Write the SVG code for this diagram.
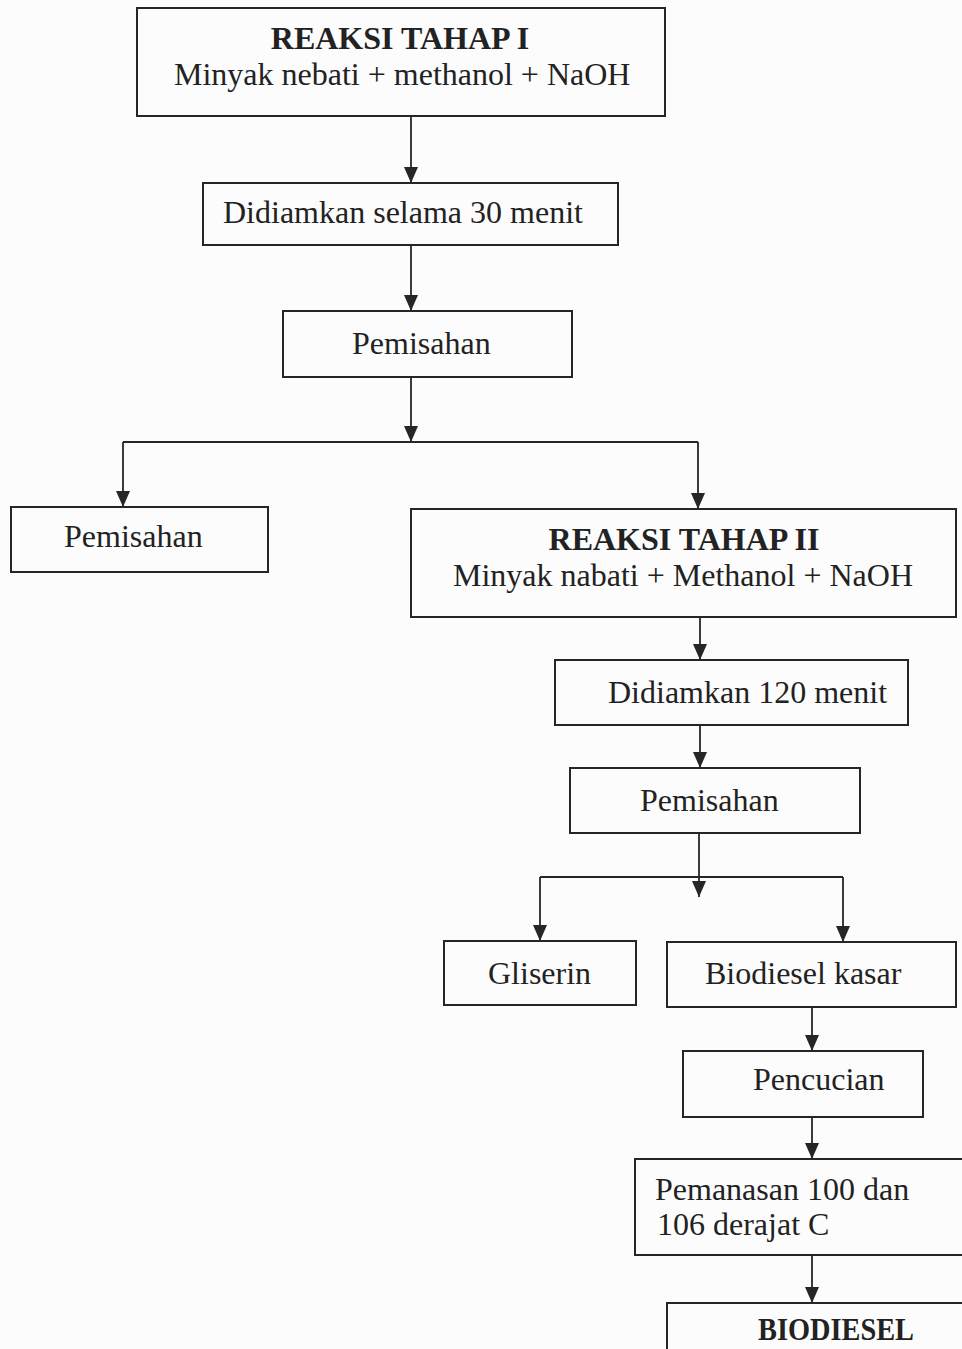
<svg xmlns="http://www.w3.org/2000/svg" width="962" height="1349" viewBox="0 0 962 1349">
<style>
.box{fill:none;stroke:#262626;stroke-width:2}
.lbl{font-family:"Liberation Serif","Times New Roman",serif;font-size:32px;fill:#222}
.bold{font-weight:bold}
.mid{text-anchor:middle}
.con{fill:none;stroke:#262626;stroke-width:1.8}
</style>
<defs>
<marker id="ah" markerUnits="userSpaceOnUse" markerWidth="16" markerHeight="14" viewBox="0 0 16 14" refX="16" refY="7" orient="auto">
<path d="M0,0 L16,7 L0,14 Z" fill="#262626"/>
</marker>
</defs>
<rect x="0" y="0" width="962" height="1349" fill="#fcfcfd"/>
<g id="connectors">
<line class="con" x1="411" y1="116" x2="411" y2="183" marker-end="url(#ah)"/>
<line class="con" x1="411" y1="245" x2="411" y2="311" marker-end="url(#ah)"/>
<line class="con" x1="411" y1="377" x2="411" y2="442" marker-end="url(#ah)"/>
<line class="con" x1="123" y1="442" x2="698" y2="442"/>
<line class="con" x1="123" y1="442" x2="123" y2="507" marker-end="url(#ah)"/>
<line class="con" x1="698" y1="442" x2="698" y2="509" marker-end="url(#ah)"/>
<line class="con" x1="700" y1="617" x2="700" y2="660" marker-end="url(#ah)"/>
<line class="con" x1="700" y1="725" x2="700" y2="768" marker-end="url(#ah)"/>
<line class="con" x1="699" y1="833" x2="699" y2="897" marker-end="url(#ah)"/>
<line class="con" x1="540" y1="877" x2="843" y2="877"/>
<line class="con" x1="540" y1="877" x2="540" y2="941" marker-end="url(#ah)"/>
<line class="con" x1="843" y1="877" x2="843" y2="942" marker-end="url(#ah)"/>
<line class="con" x1="812" y1="1007" x2="812" y2="1051" marker-end="url(#ah)"/>
<line class="con" x1="812" y1="1117" x2="812" y2="1159" marker-end="url(#ah)"/>
<line class="con" x1="812" y1="1255" x2="812" y2="1303" marker-end="url(#ah)"/>
</g>
<g id="reaksi1">
<rect class="box" x="137" y="8" width="528" height="108"/>
<text class="lbl bold mid" x="400" y="49">REAKSI TAHAP I</text>
<text class="lbl" x="174" y="85">Minyak nebati + methanol + NaOH</text>
</g>
<g id="diam30">
<rect class="box" x="203" y="183" width="415" height="62"/>
<text class="lbl" x="223" y="223">Didiamkan selama 30 menit</text>
</g>
<g id="pemisahan1">
<rect class="box" x="283" y="311" width="289" height="66"/>
<text class="lbl" x="352" y="354">Pemisahan</text>
</g>
<g id="pemisahanKiri">
<rect class="box" x="11" y="507" width="257" height="65"/>
<text class="lbl" x="64" y="547">Pemisahan</text>
</g>
<g id="reaksi2">
<rect class="box" x="411" y="509" width="545" height="108"/>
<text class="lbl bold mid" x="684" y="550">REAKSI TAHAP II</text>
<text class="lbl" x="453" y="586">Minyak nabati + Methanol + NaOH</text>
</g>
<g id="diam120">
<rect class="box" x="555" y="660" width="353" height="65"/>
<text class="lbl" x="608" y="703">Didiamkan 120 menit</text>
</g>
<g id="pemisahan2">
<rect class="box" x="570" y="768" width="290" height="65"/>
<text class="lbl" x="640" y="811">Pemisahan</text>
</g>
<g id="gliserin">
<rect class="box" x="444" y="941" width="192" height="64"/>
<text class="lbl" x="488" y="984">Gliserin</text>
</g>
<g id="biodieselKasar">
<rect class="box" x="667" y="942" width="289" height="65"/>
<text class="lbl" x="705" y="984">Biodiesel kasar</text>
</g>
<g id="pencucian">
<rect class="box" x="683" y="1051" width="240" height="66"/>
<text class="lbl" x="753" y="1090">Pencucian</text>
</g>
<g id="pemanasan">
<rect class="box" x="635" y="1159" width="340" height="96"/>
<text class="lbl" x="655" y="1200">Pemanasan 100 dan</text>
<text class="lbl" x="657" y="1235">106 derajat C</text>
</g>
<g id="biodiesel">
<rect class="box" x="667" y="1303" width="310" height="60"/>
<text class="lbl bold" x="758" y="1340" textLength="156" lengthAdjust="spacingAndGlyphs">BIODIESEL</text>
</g>
</svg>
